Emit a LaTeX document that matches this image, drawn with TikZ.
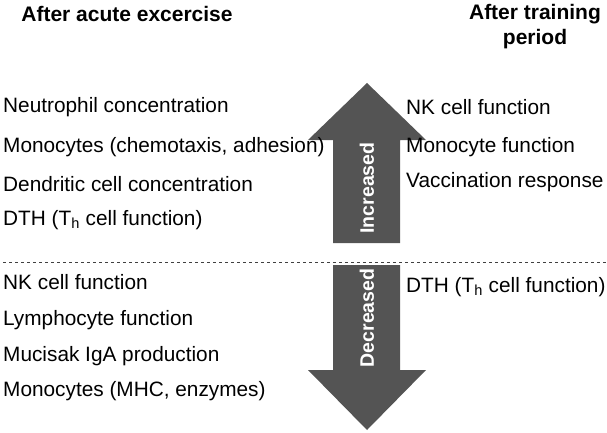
\documentclass[tikz,border=0pt]{standalone}
\usepackage{fontspec}
\setmainfont{Liberation Sans}
\begin{document}
\begin{tikzpicture}[x=1pt,y=-1pt,
  lbl/.style={anchor=west,inner sep=0pt,font=\fontsize{20.8}{24}\selectfont},
  hd/.style={inner sep=0pt,font=\bfseries\fontsize{21}{25}\selectfont,align=center},
  arr/.style={fill=black!67,draw=none},
  arrtxt/.style={text=white,font=\bfseries\fontsize{19.5}{22}\selectfont,rotate=90}]
\useasboundingbox (0,0) rectangle (607,433);
\node[hd] (h1) at (127,14) {After acute excercise};
\node[hd] (h2) at (535,27) {After training\\period};
\fill[arr] (367,83) -- (426,140) -- (400,140) -- (400,243) -- (333,243) -- (333,140) -- (308,140) -- cycle;
\fill[arr] (367,430) -- (426,370) -- (400,370) -- (400,265) -- (333,265) -- (333,370) -- (308,370) -- cycle;
\node[arrtxt] (inc) at (367,188) {Increased};
\node[arrtxt] (dec) at (367,318) {Decreased};
\draw[dashed,line width=0.8pt,black!75] (3,262) -- (607,262);
\node[lbl] (a1) at (3,107) {Neutrophil concentration};
\node[lbl] (a2) at (3,147) {Monocytes (chemotaxis, adhesion)};
\node[lbl] (a3) at (3,184) {Dendritic cell concentration};
\node[lbl] (a4) at (3,220) {DTH (T$_{\mathrm{h}}$ cell function)};
\node[lbl] (b1) at (3,282) {NK cell function};
\node[lbl] (b2) at (3,320) {Lymphocyte function};
\node[lbl] (b3) at (3,356) {Mucisak IgA production};
\node[lbl] (b4) at (3,391) {Monocytes (MHC, enzymes)};
\node[lbl] (c1) at (406,107) {NK cell function};
\node[lbl] (c2) at (406,147) {Monocyte function};
\node[lbl] (c3) at (406,182) {Vaccination response};
\node[lbl] (d1) at (406,287) {DTH (T$_{\mathrm{h}}$ cell function)};
\end{tikzpicture}
\end{document}
